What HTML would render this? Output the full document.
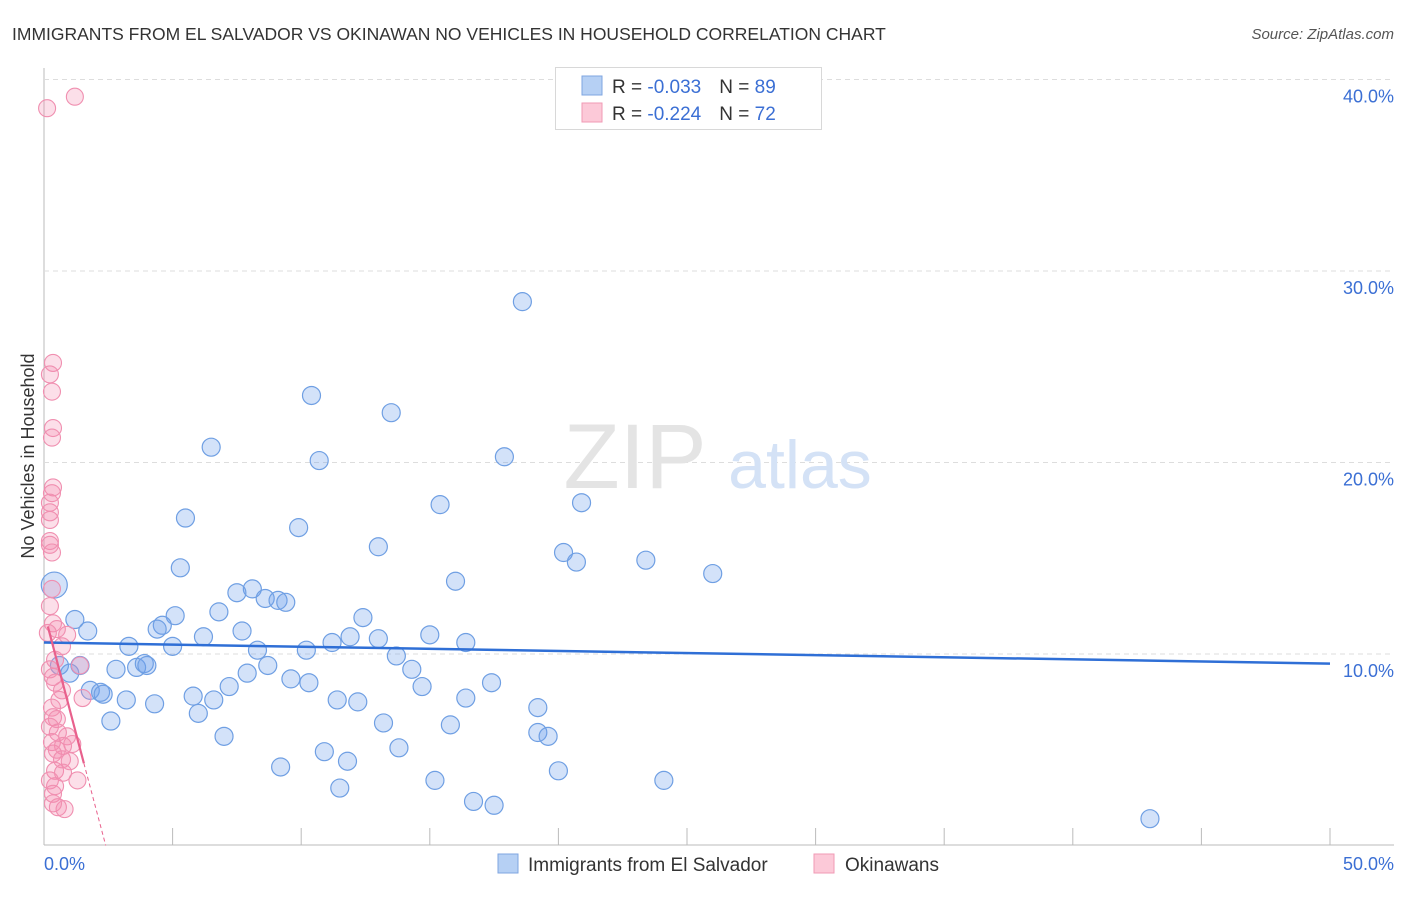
<!DOCTYPE html>
<html><head><meta charset="utf-8"><style>
body{margin:0;background:#fff;font-family:"Liberation Sans",sans-serif}
svg text{font-family:"Liberation Sans",sans-serif}
</style></head><body>
<svg width="1406" height="892" viewBox="0 0 1406 892">
<text x="12" y="40" font-size="17.5" fill="#333">IMMIGRANTS FROM EL SALVADOR VS OKINAWAN NO VEHICLES IN HOUSEHOLD CORRELATION CHART</text>
<text x="1394" y="39" font-size="15" font-style="italic" fill="#555" text-anchor="end">Source: ZipAtlas.com</text>
<g id="grid"></g>
<text x="635" y="488" font-size="92" font-family="Liberation Serif" fill="#e4e4e4" text-anchor="middle">ZIP</text>
<text x="800" y="488" font-size="68" fill="#d4e2f6" text-anchor="middle">atlas</text>
<g id="pts"></g>
<g id="lines"></g>
<text transform="translate(34,456) rotate(-90)" font-size="18" fill="#333" text-anchor="middle">No Vehicles in Household</text>
<text x="44" y="870" font-size="18" fill="#3b6fd4">0.0%</text>
<text x="1394" y="870" font-size="18" fill="#3b6fd4" text-anchor="end">50.0%</text>
<g>
<rect x="555.5" y="67.5" width="266" height="62" fill="#fff" stroke="#d8d8d8"/>
<rect x="582" y="76" width="20" height="19" fill="#b6d0f4" stroke="#7fa6e0"/>
<rect x="582" y="103" width="20" height="19" fill="#fcc9d8" stroke="#f09ab5"/>
<text x="612" y="93" font-size="19" fill="#333">R = <tspan fill="#3b6fd4">-0.033</tspan><tspan dx="18">N = </tspan><tspan fill="#3b6fd4">89</tspan></text>
<text x="612" y="120" font-size="19" fill="#333">R = <tspan fill="#3b6fd4">-0.224</tspan><tspan dx="18">N = </tspan><tspan fill="#3b6fd4">72</tspan></text>
</g>
<g>
<rect x="498" y="854" width="20" height="19" fill="#b6d0f4" stroke="#7fa6e0"/>
<text x="528" y="871" font-size="19" fill="#333">Immigrants from El Salvador</text>
<rect x="814" y="854" width="20" height="19" fill="#fcc9d8" stroke="#f09ab5"/>
<text x="845" y="871" font-size="19" fill="#333">Okinawans</text>
</g>
</svg>
<script>
const blueX=[18.6,10.4,13.5,6.5,10.7,17.9,15.4,20.9,5.5,9.9,13.0,20.2,20.7,23.4,26.0,5.3,16.0,8.1,7.5,8.6,9.1,9.4,6.8,5.1,4.6,4.4,12.4,1.2,1.7,7.7,6.2,11.9,13.0,15.0,3.3,5.0,11.2,16.4,8.3,10.2,13.7,0.6,1.0,1.4,2.8,3.6,3.9,4.0,8.7,7.9,14.3,9.6,10.3,1.8,2.2,2.3,7.2,14.7,17.4,5.8,3.2,4.3,6.6,11.4,12.2,16.4,19.2,6.0,2.6,13.2,15.8,19.2,19.6,7.0,10.9,13.8,11.8,9.2,20.0,15.2,24.1,11.5,16.7,17.5,43.0];
const blueY=[28.4,23.5,22.6,20.8,20.1,20.3,17.8,17.9,17.1,16.6,15.6,15.3,14.8,14.9,14.2,14.5,13.8,13.4,13.2,12.9,12.8,12.7,12.2,12.0,11.5,11.3,11.9,11.8,11.2,11.2,10.9,10.9,10.8,11.0,10.4,10.4,10.6,10.6,10.2,10.2,9.9,9.4,9.0,9.4,9.2,9.3,9.5,9.4,9.4,9.0,9.2,8.7,8.5,8.1,8.0,7.9,8.3,8.3,8.5,7.8,7.6,7.4,7.6,7.6,7.5,7.7,7.2,6.9,6.5,6.4,6.3,5.9,5.7,5.7,4.9,5.1,4.4,4.1,3.9,3.4,3.4,3.0,2.3,2.1,1.4];
const pinkX=[0.12,1.2,0.35,0.23,0.31,0.35,0.31,0.35,0.31,0.23,0.23,0.23,0.23,0.23,0.31,0.31,0.23,0.35,0.9,0.5,0.15,0.7,1.4,0.23,0.35,0.43,0.7,1.5,0.31,0.35,0.5,0.23,0.54,0.9,1.1,0.31,0.74,0.5,0.35,0.7,1.0,0.43,0.74,0.23,1.3,0.43,0.35,0.54,0.8,0.35,0.6,0.43];
const pinkY=[38.5,39.1,25.2,24.6,23.7,21.8,21.3,18.7,18.4,17.9,17.4,17.0,15.9,15.7,15.3,13.4,12.5,11.6,11.0,11.3,11.1,10.4,9.4,9.2,8.8,8.5,8.1,7.7,7.2,6.7,6.6,6.2,5.9,5.7,5.3,5.4,5.2,5.0,4.8,4.5,4.4,3.9,3.8,3.4,3.4,3.1,2.7,2.0,1.9,2.2,7.6,9.7];
const yTicks=[10,20,30,40];
const yTickLabels=["10.0%","20.0%","30.0%","40.0%"];
const xTicks=[0,5,10,15,20,25,30,35,40,45,50];
const blueTrend=[10.6,9.5];
const pinkTrend=[12.2,-5.1];
const X=v=>44+v*25.72, Y=v=>845.5-v*19.15;
const NS="http://www.w3.org/2000/svg";
function mk(t,a,p){const e=document.createElementNS(NS,t);for(const k in a)e.setAttribute(k,a[k]);p.appendChild(e);return e;}
const grid=document.getElementById('grid');
let ax=mk('line',{x1:44,y1:68,x2:44,y2:845,stroke:'#bbb'},grid);


let bx=mk('line',{x1:44,y1:845,x2:1394,y2:845,stroke:'#bbb'},grid);


yTicks.forEach((v,i)=>{
 const g=mk('line',{x1:44,x2:1394,y1:Y(v),y2:Y(v),stroke:'#ddd','stroke-dasharray':'5,4'},grid);
 
 
 const t=mk('text',{x:1394,y:Y(v)+23,'font-size':18,fill:'#3b6fd4','text-anchor':'end'},grid);
 t.textContent=yTickLabels[i];
 
 
});
xTicks.forEach(v=>{
 const t=mk('line',{x1:X(v),x2:X(v),y1:828,y2:845,stroke:'#bbb'},grid);
 
 
});
const pts=document.getElementById('pts');
blueX.forEach((x,i)=>{
 const c=mk('circle',{cx:X(x),cy:Y(blueY[i]),r:9,fill:'rgba(110,160,235,0.3)',stroke:'#6f9fe3','stroke-width':1.2},pts);
 
 
});
const big=mk('circle',{cx:X(0.4),cy:Y(13.6),r:13,fill:'rgba(110,160,235,0.3)',stroke:'#6f9fe3','stroke-width':1.2},pts);


pinkX.forEach((x,i)=>{
 const c=mk('circle',{cx:X(x),cy:Y(pinkY[i]),r:8.5,fill:'rgba(245,140,175,0.28)',stroke:'#f08fb0','stroke-width':1.1},pts);
 
 
});
const L=document.getElementById('lines');
const bl=mk('line',{x1:X(0),y1:Y(blueTrend[0]),x2:X(50),y2:Y(blueTrend[1]),stroke:'#2f6fd6','stroke-width':2.5},L);


const pf=x=>pinkTrend[0]+pinkTrend[1]*x;
const ps=mk('line',{x1:X(0.15),y1:Y(pf(0.15)),x2:X(1.55),y2:Y(pf(1.55)),stroke:'#e8608c','stroke-width':2.2},L);


const pd=mk('line',{x1:X(1.55),y1:Y(pf(1.55)),x2:X(2.4),y2:Y(Math.max(0,pf(2.4))),stroke:'#e8608c','stroke-width':1,'stroke-dasharray':'4,3'},L);


</script>
</body></html>
